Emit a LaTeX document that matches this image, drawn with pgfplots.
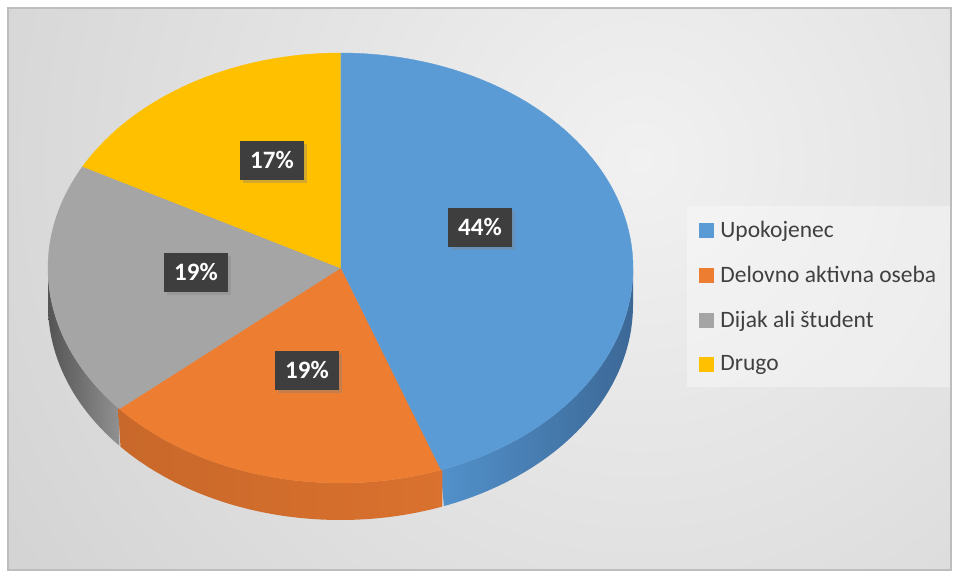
\documentclass[border=0pt]{standalone}
\usepackage{pgfplots}
\pgfplotsset{compat=1.18}
\usepackage{pgfplotstable}
\usepackage{fontspec}
\setmainfont{Carlito}
\usetikzlibrary{shadows}
\definecolor{pblue}{HTML}{5B9BD5}
\definecolor{porange}{HTML}{ED7D31}
\definecolor{pgray}{HTML}{A5A5A5}
\definecolor{pyellow}{HTML}{FFC000}
\definecolor{labelbg}{HTML}{3E3E3E}
\definecolor{legtext}{HTML}{404040}
\definecolor{bgA}{HTML}{F1F1F1}
\definecolor{bgB}{HTML}{B5B5B5}
\definecolor{frame}{HTML}{BDBDBD}
\pgfdeclareradialshading{bgrad}{\pgfpoint{0bp}{0bp}}{color(0bp)=(bgA); color(50bp)=(bgB)}
\begin{document}%
\begin{tikzpicture}
\pgfplotstableread{
share
44
19
19
17
}\piedata
\pgfplotstablegetelem{0}{share}\of\piedata\pgfmathsetmacro\sA{\pgfplotsretval}
\pgfplotstablegetelem{1}{share}\of\piedata\pgfmathsetmacro\sB{\pgfplotsretval}
\pgfplotstablegetelem{2}{share}\of\piedata\pgfmathsetmacro\sC{\pgfplotsretval}
\pgfplotstablegetelem{3}{share}\of\piedata\pgfmathsetmacro\sD{\pgfplotsretval}
\pgfmathsetmacro\tot{\sA+\sB+\sC+\sD}
\pgfmathsetmacro\aB{\sA/\tot*360}
\pgfmathsetmacro\aC{(\sA+\sB)/\tot*360}
\pgfmathsetmacro\aD{(\sA+\sB+\sC)/\tot*360}
\def\cx{340.5}\def\cy{268}\def\rx{292.5}\def\ry{215}\def\dd{37}
\begin{axis}[
  width=959pt, height=578pt, scale only axis,
  xmin=0, xmax=959, ymin=0, ymax=578, y dir=reverse,
  hide axis, clip=false,
  legend style={at={(axis cs:687,206)}, anchor=north west, draw=none,
    fill=white, fill opacity=0.35, text opacity=1,
    font=\fontsize{23.5}{28}\selectfont, text=legtext,
    inner xsep=12pt, inner ysep=13pt, row sep=23pt},
  legend cell align=left,
  legend image code/.code={\fill[#1, fill opacity=1] (0pt,-7pt) rectangle (14pt,7pt);
    \path[draw=none, fill=none] (19pt,0pt);},
]
\coordinate (P1) at (0,0);
\coordinate (P2) at (959,578);
% background
\fill[white] (0,0) rectangle (959,578);
\begin{scope}
\clip (8,8) rectangle (951,570);
\shade[shading=bgrad] (640,160) circle[radius=760pt];
\end{scope}
\draw[frame, line width=1.2pt] (8,8) rectangle (951,570);
% sides
\addplot[forget plot, draw=none, left color={rgb,255:red,82;green,145;blue,203}, right color={rgb,255:red,60;green,104;blue,150},
  domain=0:2, samples=201, variable=\t]
  ({\cx+\rx*sin(90+(\aB-90)*min(\t,2-\t))},
   {\cy-\ry*cos(90+(\aB-90)*min(\t,2-\t))+\dd*(\t>1)});
\addplot[forget plot, draw=none, left color={rgb,255:red,84;green,84;blue,84}, right color={rgb,255:red,145;green,145;blue,145},
  domain=0:2, samples=201, variable=\t]
  ({\cx+\rx*sin(\aC+(270-\aC)*min(\t,2-\t))},
   {\cy-\ry*cos(\aC+(270-\aC)*min(\t,2-\t))+\dd*(\t>1)});
\addplot[forget plot, draw=none, left color={rgb,255:red,200;green,104;blue,42}, middle color={rgb,255:red,236;green,127;blue,52}, right color={rgb,255:red,218;green,113;blue,46},
  domain=0:2, samples=201, variable=\t]
  ({\cx+\rx*sin(\aB-0.4+(\aC-\aB+0.8)*min(\t,2-\t))},
   {\cy-\ry*cos(\aB-0.4+(\aC-\aB+0.8)*min(\t,2-\t))+\dd*(\t>1)});
% tops
\addplot[fill=pblue, draw=pblue, line width=0.4pt, domain=0:\aB, samples=120]
  ({\cx+\rx*sin(x)},{\cy-\ry*cos(x)}) -- (\cx,\cy) -- cycle;
\addplot[fill=porange, draw=porange, line width=0.4pt, domain=\aB:\aC, samples=60]
  ({\cx+\rx*sin(x)},{\cy-\ry*cos(x)}) -- (\cx,\cy) -- cycle;
\addplot[fill=pgray, draw=pgray, line width=0.4pt, domain=\aC:\aD, samples=60]
  ({\cx+\rx*sin(x)},{\cy-\ry*cos(x)}) -- (\cx,\cy) -- cycle;
\addplot[fill=pyellow, draw=pyellow, line width=0.4pt, domain=\aD:360, samples=60]
  ({\cx+\rx*sin(x)},{\cy-\ry*cos(x)}) -- (\cx,\cy) -- cycle;
\legend{Upokojenec, Delovno aktivna oseba, Dijak ali študent, Drugo}
% data labels
\tikzset{dlab/.style={fill=labelbg, text=white, font=\bfseries\fontsize{25}{28}\selectfont,
  minimum width=64pt, minimum height=39pt, inner sep=0pt,
  drop shadow={shadow xshift=2.5pt, shadow yshift=-3pt, opacity=0.35}}}
\node[dlab] at (480,227) {44\%};
\node[dlab] at (307,370) {19\%};
\node[dlab] at (196,272) {19\%};
\node[dlab] at (272,160) {17\%};
\end{axis}
\pgfresetboundingbox
\path (P1) rectangle (P2);
\end{tikzpicture}%
\end{document}
